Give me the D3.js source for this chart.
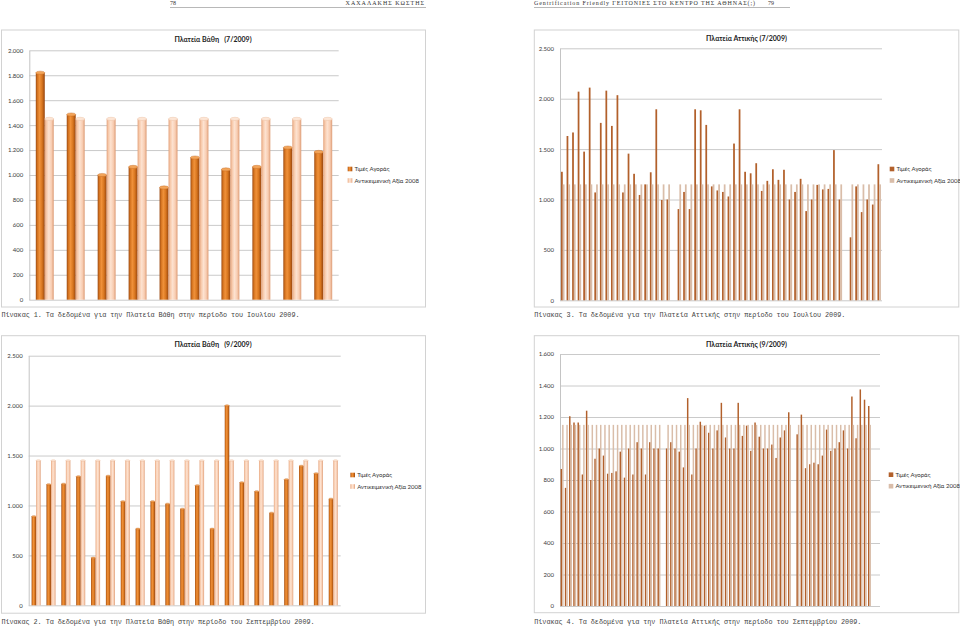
<!DOCTYPE html>
<html><head><meta charset="utf-8">
<script src="https://cdn.jsdelivr.net/npm/d3@7"></script>
<style>body{margin:0;background:#fff}svg{display:block}</style>
</head><body>
<svg id="page" width="960" height="626"></svg>
<script>
// ---------------- DATA ----------------
const seriesNames = ["Τιμές Αγοράς", "Αντικειμενική Αξία 2008"];

// Πλατεία Βάθη (7/2009)
const vathiJulyPrices    = [1820, 1485, 1000, 1065, 900, 1140, 1045, 1065, 1220, 1185];
const vathiJulyObjective = [1450, 1450, 1450, 1450, 1450, 1450, 1450, 1450, 1450, 1450];
const vathiJulyTicks     = [0, 200, 400, 600, 800, 1000, 1200, 1400, 1600, 1800, 2000];

// Πλατεία Βάθη (9/2009)
const vathiSeptPrices    = [890, 1210, 1215, 1290, 475, 1295, 1040, 765, 1040, 1015, 965,
                            1200, 765, 2000, 1230, 1140, 925, 1260, 1395, 1320, 1065];
const vathiSeptObjective = [1450, 1450, 1450, 1450, 1450, 1450, 1450, 1450, 1450, 1450, 1450,
                            1450, 1450, 1450, 1450, 1450, 1450, 1450, 1450, 1450, 1450];
const vathiSeptTicks     = [0, 500, 1000, 1500, 2000, 2500];

// Πλατεία Αττικής (7/2009)
const attikisJulyPrices = [1275, 1630, 1665, 2070, 1475, 2110, 1070, 1760, 2080, 1730,
                           2035, 1070, 1455, 1255, 1045, 1150, 1270, 1895, 995, 1000,
                           null, 905, 1075, 905, 1895, 1885, 1740, 1130, 1090, 1075,
                           1030, 1555, 1895, 1275, 1260, 1360, 1085, 1185, 1300, 1195,
                           1295, 1000, 1075, 1205, 885, 1000, 1145, 1100, 1105, 1490,
                           1000, null, 625, 1130, 875, 1000, 950, 1350];
const attikisJulyObjective = [1150, 1150, 1150, 1150, 1150, 1150, 1150, 1150, 1150, 1150,
                              1150, 1150, 1150, 1150, 1150, 1150, 1150, 1150, 1150, 1150,
                              null, 1150, 1150, 1150, 1150, 1150, 1150, 1150, 1150, 1150,
                              1150, 1150, 1150, 1150, 1150, 1150, 1150, 1150, 1150, 1150,
                              1150, 1150, 1150, 1150, 1150, 1150, 1150, 1150, 1150, 1150,
                              1150, null, 1150, 1150, 1150, 1150, 1150, 1150];
const attikisJulyTicks = [0, 500, 1000, 1500, 2000, 2500];

// Πλατεία Αττικής (9/2009)
const attikisSeptPrices = [870, 750, 1205, 1165, 1165, 835, 1240, 800, 935, 1000,
                           955, 840, 845, 855, 980, 815, 1000, 835, 1040, 1000,
                           835, 1040, 1000, 1000, null,
                           1000, 1040, 1000, 980, 880, 1320, 835, 1000, 1170, 1145,
                           1100, 1000, 1115, 1290, 1070, 1000, 1000, 1290, 1080, 1145,
                           985, 1165, 1075, 1000, 1000, 1025, 940, 1070, 1115, 1230,
                           null,
                           1090, 1215, 875, 900, 910, 900, 955, 1120, 985, 1000,
                           1040, 1115, 1000, 1330, 1065, 1375, 1310, 1270,
                           null, null];
const attikisSeptObjective = [1150, 1150, 1150, 1150, 1150, 1150, 1150, 1150, 1150, 1150,
                              1150, 1150, 1150, 1150, 1150, 1150, 1150, 1150, 1150, 1150,
                              1150, 1150, 1150, 1150, null,
                              1150, 1150, 1150, 1150, 1150, 1150, 1150, 1150, 1150, 1150,
                              1150, 1150, 1150, 1150, 1150, 1150, 1150, 1150, 1150, 1150,
                              1150, 1150, 1150, 1150, 1150, 1150, 1150, 1150, 1150, 1150,
                              null,
                              1150, 1150, 1150, 1150, 1150, 1150, 1150, 1150, 1150, 1150,
                              1150, 1150, 1150, 1150, 1150, 1150, 1150, 1150,
                              null, null];
const attikisSeptTicks = [0, 200, 400, 600, 800, 1000, 1200, 1400, 1600];

const chartTitles = ["Πλατεία Βάθη   (7/2009)", "Πλατεία Αττικής (7/2009)",
                     "Πλατεία Βάθη   (9/2009)", "Πλατεία Αττικής (9/2009)"];
const captions = [
  "Πίνακας 1. Τα δεδομένα για την Πλατεία Βάθη στην περίοδο του Ιουλίου 2009.",
  "Πίνακας 3. Τα δεδομένα για την Πλατεία Αττικής στην περίοδο του Ιουλίου 2009.",
  "Πίνακας 2. Τα δεδομένα για την Πλατεία Βάθη στην περίοδο του Σεπτεμβρίου 2009.",
  "Πίνακας 4. Τα δεδομένα για την Πλατεία Αττικής στην περίοδο του Σεπτεμβρίου 2009."
];
const headerLeft = ["78", "ΧΑΧΑΛΑΚΗΣ ΚΩΣΤΗΣ"];
const headerRight = ["Gentrification Friendly ΓΕΙΤΟΝΙΕΣ ΣΤΟ ΚΕΝΤΡΟ ΤΗΣ ΑΘΗΝΑΣ(;)", "79"];

// ---------------- RENDER ----------------
const svg = d3.select("#page");
const fmt = d3.formatLocale({decimal: ",", thousands: ".", grouping: [3], currency: ["", "€"]}).format(",");
const GRID = "#c4c4c4";
const FONT = "Lato, 'Open Sans', sans-serif";

const defs = svg.append("defs");
function hGrad(id, stops) {
  const g = defs.append("linearGradient").attr("id", id)
    .attr("x1", "0%").attr("x2", "100%").attr("y1", "0%").attr("y2", "0%");
  stops.forEach(([o, c]) => g.append("stop").attr("offset", o).attr("stop-color", c));
}
hGrad("gOrange", [[0, "#9c4a12"], [0.18, "#d4731f"], [0.42, "#f0913a"], [0.7, "#d8761f"], [1, "#96440e"]]);
hGrad("gPeach", [[0, "#e3a27c"], [0.2, "#f7c9aa"], [0.45, "#fde2d0"], [0.75, "#f8cdb2"], [1, "#dd9c76"]]);

// header
const hdr = svg.append("g").attr("font-family", "'Liberation Serif', serif").attr("font-size", 6).attr("fill", "#333");
hdr.append("text").attr("x", 170).attr("y", 5).text(headerLeft[0]);
hdr.append("text").attr("x", 425).attr("y", 5).attr("text-anchor", "end").attr("letter-spacing", 1).text(headerLeft[1]);
hdr.append("line").attr("x1", 170).attr("x2", 426).attr("y1", 7.5).attr("y2", 7.5).attr("stroke", "#999").attr("stroke-width", 0.7);
hdr.append("text").attr("x", 534).attr("y", 5).attr("textLength", 221).attr("lengthAdjust", "spacing").text(headerRight[0]);
hdr.append("text").attr("x", 768).attr("y", 5).text(headerRight[1]);
hdr.append("line").attr("x1", 534).attr("x2", 790).attr("y1", 7.5).attr("y2", 7.5).attr("stroke", "#999").attr("stroke-width", 0.7);

const charts = [
  {prices: vathiJulyPrices, obj: vathiJulyObjective, ticks: vathiJulyTicks, title: chartTitles[0], caption: captions[0],
   frame: [1.5, 30, 424, 277], plot: [29.3, 50.3, 338.7, 299.7], pad: 0.42, thick: true,
   titleXY: [213, 41.5], legendXY: [350, 169], captionXY: [1.5, 317, 298]},
  {prices: attikisJulyPrices, obj: attikisJulyObjective, ticks: attikisJulyTicks, title: chartTitles[1], caption: captions[1],
   frame: [534.3, 30, 424.5, 277], plot: [560, 48.3, 882, 300.3], pad: 0.37, thick: false,
   titleXY: [746.5, 40.5], legendXY: [892, 169], captionXY: [534.3, 317, 311]},
  {prices: vathiSeptPrices, obj: vathiSeptObjective, ticks: vathiSeptTicks, title: chartTitles[2], caption: captions[2],
   frame: [1.5, 335.7, 424, 277.5], plot: [28.7, 355.7, 340.7, 605.3], pad: 0.39, thick: true,
   titleXY: [213, 347], legendXY: [352.7, 475], captionXY: [1.5, 624, 313]},
  {prices: attikisSeptPrices, obj: attikisSeptObjective, ticks: attikisSeptTicks, title: chartTitles[3], caption: captions[3],
   frame: [534.3, 335.7, 424.5, 277], plot: [560, 354, 880, 606], pad: 0.3, thick: false,
   titleXY: [746.5, 346.5], legendXY: [891, 474.7], captionXY: [534.3, 624, 327]}
];

charts.forEach(cfg => {
  const g = svg.append("g");
  const [fx, fy, fw, fh] = cfg.frame;
  g.append("rect").attr("x", fx).attr("y", fy).attr("width", fw).attr("height", fh)
    .attr("fill", "#fff").attr("stroke", "#d2d2d2").attr("stroke-width", 1);

  const [x0, y0, x1, y1] = cfg.plot;
  const y = d3.scaleLinear().domain([0, d3.max(cfg.ticks)]).range([y1, y0]);
  const x = d3.scaleBand().domain(d3.range(cfg.prices.length)).range([x0, x1])
    .paddingInner(cfg.pad).paddingOuter(cfg.pad / 2);
  const xs = d3.scaleBand().domain([0, 1]).range([0, x.bandwidth()]);

  const ax = g.append("g").attr("transform", `translate(${x0},0)`)
    .call(d3.axisLeft(y).tickValues(cfg.ticks).tickSize(-(x1 - x0)).tickSizeOuter(0).tickPadding(6).tickFormat(fmt));
  ax.select(".domain").attr("stroke", GRID);
  ax.selectAll(".tick line").attr("stroke", GRID).attr("stroke-width", 0.9);
  ax.selectAll(".tick text").attr("font-family", FONT).attr("font-size", 6).attr("fill", "#3a3a3a");

  const series = [
    {vals: cfg.prices, s: 0, fill: cfg.thick ? "url(#gOrange)" : "#b2602b", cap: "#f3a55a"},
    {vals: cfg.obj, s: 1, fill: cfg.thick ? "url(#gPeach)" : "#d9bda9", cap: "#fde6d6"}
  ];
  series.forEach(sr => {
    const data = sr.vals.map((v, i) => ({i, v})).filter(d => d.v != null);
    const w = xs.bandwidth();
    g.append("g").selectAll("rect").data(data).join("rect")
      .attr("x", d => x(d.i) + xs(sr.s)).attr("width", w)
      .attr("y", d => y(d.v)).attr("height", d => y(0) - y(d.v))
      .attr("fill", sr.fill);
    if (cfg.thick) {
      g.append("g").selectAll("ellipse").data(data).join("ellipse")
        .attr("cx", d => x(d.i) + xs(sr.s) + w / 2).attr("cy", d => y(d.v))
        .attr("rx", w / 2).attr("ry", Math.min(1.6, w * 0.18))
        .attr("fill", sr.cap).attr("stroke", sr.s === 0 ? "#c0661f" : "#e8b898").attr("stroke-width", 0.4);
    }
  });

  // title
  g.append("text").attr("x", cfg.titleXY[0]).attr("y", cfg.titleXY[1]).attr("text-anchor", "middle")
    .attr("font-family", FONT).attr("font-size", 7).attr("font-weight", "bold").attr("fill", "#222")
    .attr("xml:space", "preserve").style("white-space", "pre").text(cfg.title);

  // legend
  const [lx, ly] = cfg.legendXY;
  const lg = g.append("g").attr("font-family", FONT).attr("font-size", 6).attr("fill", "#333");
  const legendFills = cfg.thick ? ["url(#gOrange)", "url(#gPeach)"] : ["#b2602b", "#d9bda9"];
  seriesNames.forEach((nm, k) => {
    const yy = ly + k * 11.5;
    lg.append("rect").attr("x", lx - 2.3).attr("y", yy - 2.3).attr("width", 4.6).attr("height", 4.6).attr("fill", legendFills[k]);
    lg.append("text").attr("x", lx + 4.5).attr("y", yy + 2.1).text(nm);
  });

  // caption
  const [cx, cy, cw] = cfg.captionXY;
  svg.append("text").attr("x", cx).attr("y", cy).attr("font-family", "'Liberation Mono', monospace")
    .attr("font-size", 6.8).attr("fill", "#444").attr("textLength", cw).attr("lengthAdjust", "spacing")
    .text(cfg.caption);
});
</script>
</body></html>
